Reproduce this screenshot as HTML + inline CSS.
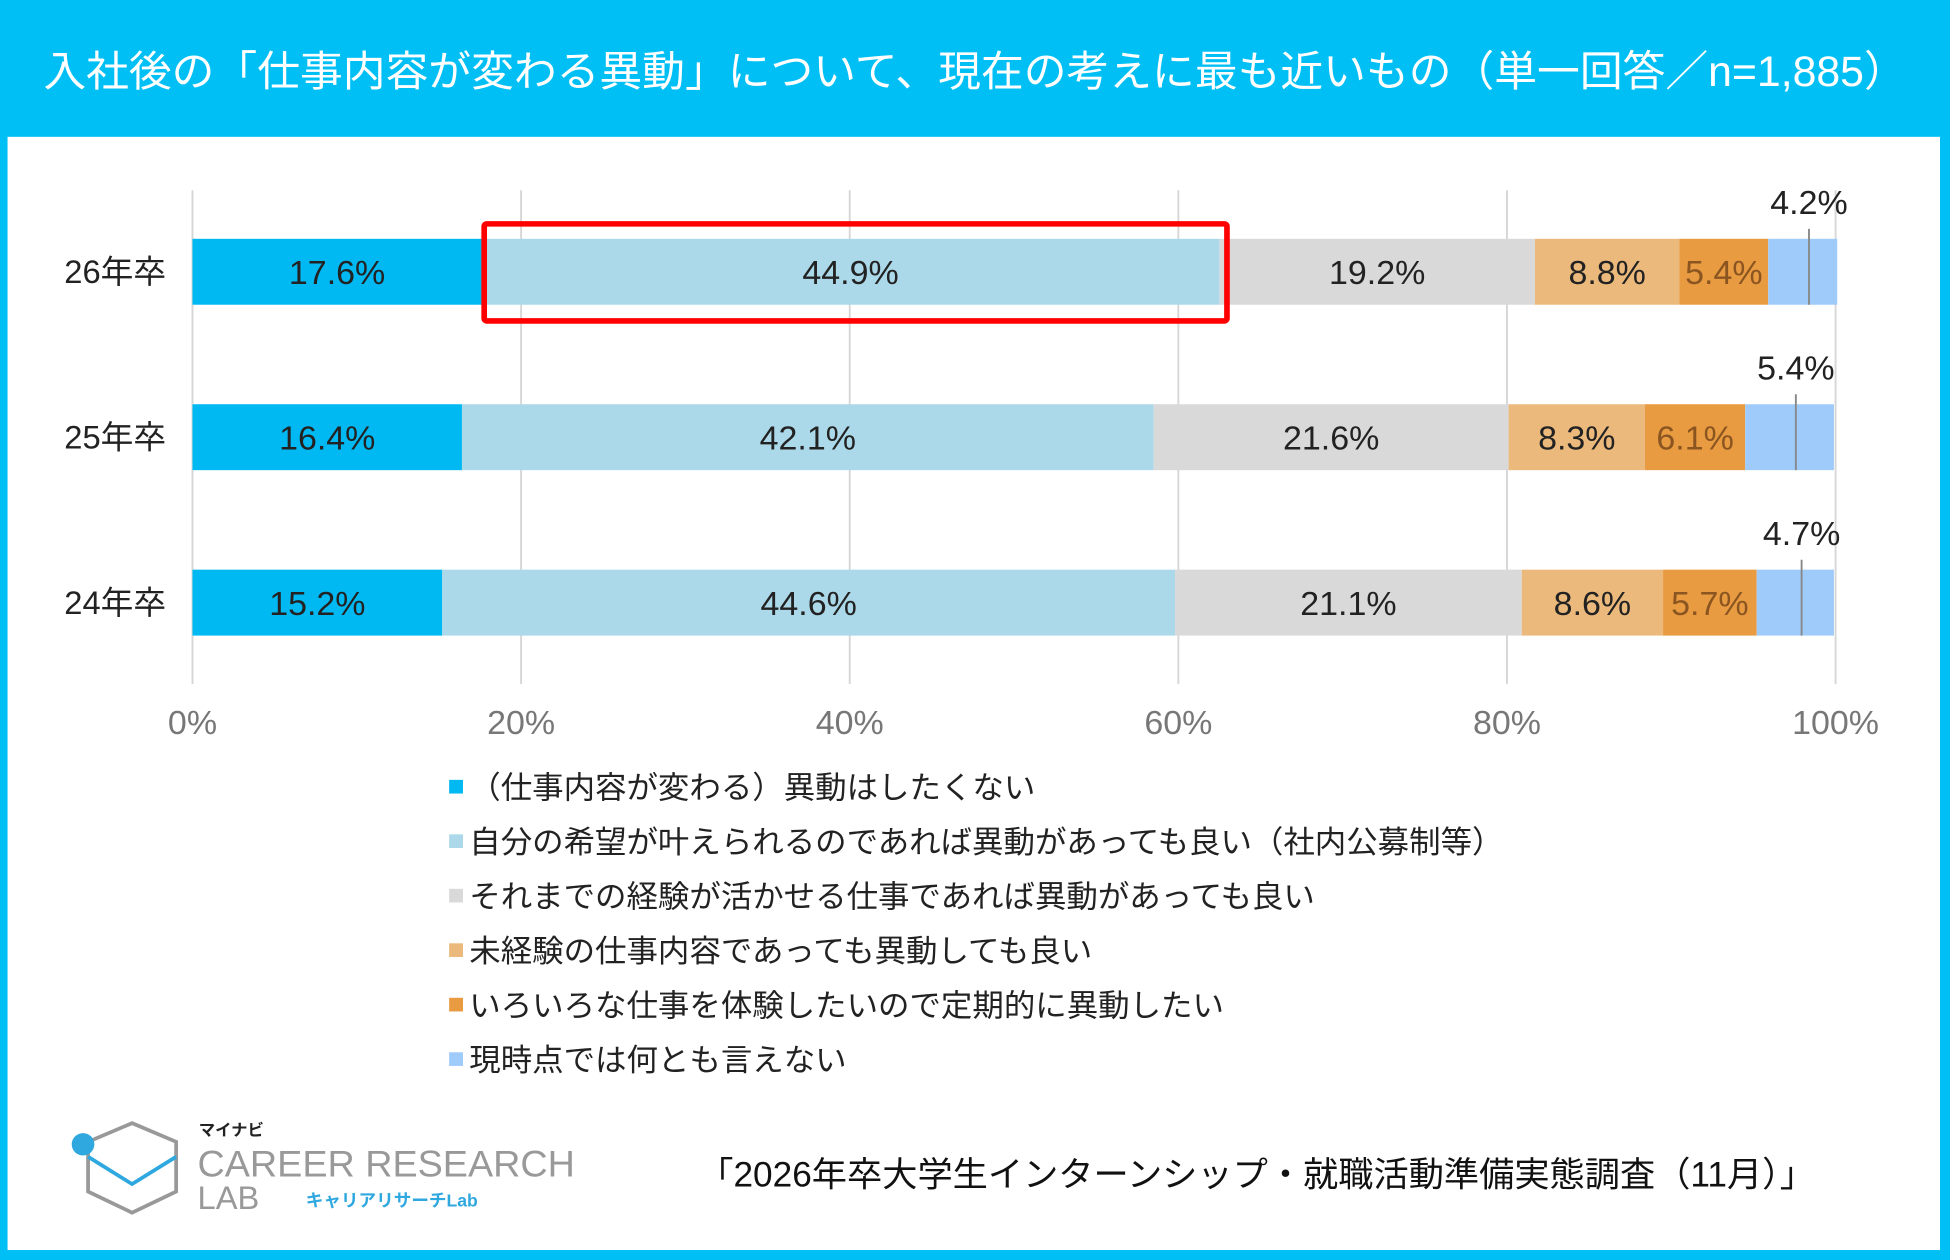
<!DOCTYPE html>
<html><head><meta charset="utf-8">
<style>
html,body{margin:0;padding:0;width:1950px;height:1260px;overflow:hidden;background:#00bff5;}
#wrap{position:absolute;left:0;top:0;width:1550px;height:1013px;transform-origin:0 0;transform:scale(1.2581,1.2438);font-family:"Liberation Sans","Noto Sans CJK JP",sans-serif;}
#panel{position:absolute;left:6px;top:110px;width:1536px;height:895px;background:#fff;}
#title{position:absolute;left:0;top:30px;width:1550px;text-align:center;color:#fff;font-size:34px;white-space:nowrap;}
svg text{font-family:"Liberation Sans","Noto Sans CJK JP",sans-serif;}
</style></head><body>
<div id="wrap">
<div id="title">入社後の「仕事内容が変わる異動」について、現在の考えに最も近いもの（単一回答／n=1,885）</div>
<div id="panel"></div>
<svg id="chart" width="1550" height="1013" style="position:absolute;left:0;top:0"></svg>
</div>
<script>
const categories=["26年卒","25年卒","24年卒"];
const s1=[17.6,16.4,15.2];
const s2=[44.9,42.1,44.6];
const s3=[19.2,21.6,21.1];
const s4=[8.8,8.3,8.6];
const s5=[5.4,6.1,5.7];
const s6=[4.2,5.4,4.7];
const ticks=[0,20,40,60,80,100];
const seriesNames=["（仕事内容が変わる）異動はしたくない","自分の希望が叶えられるのであれば異動があっても良い（社内公募制等）","それまでの経験が活かせる仕事であれば異動があっても良い","未経験の仕事内容であっても異動しても良い","いろいろな仕事を体験したいので定期的に異動したい","現時点では何とも言えない"];
const colors=["#00b9f2","#acd9ea","#d9d9d9","#ebb97c","#e99b41","#9fcbfb"];
const labelColors=["#222","#222","#222","#222","#8a5520"];
const series=[s1,s2,s3,s4,s5,s6];
const svg=document.getElementById('chart');
const NS="http://www.w3.org/2000/svg";
const X0=153,X1=1459;
const x=v=>X0+(X1-X0)*v/100;
const rowY=i=>192+i*133;
const BH=53;
function mk(t,a){const e=document.createElementNS(NS,t);for(const k in a)e.setAttribute(k,a[k]);svg.appendChild(e);return e;}
ticks.forEach(t=>{
 const g=mk('line',{x1:x(t),x2:x(t),y1:153,y2:550,stroke:'#d6d6d6','stroke-width':1.5});
 
 
 const tl=mk('text',{x:x(t),y:590,'text-anchor':'middle','font-size':27,fill:'#777'});
 tl.textContent=t+'%';
 
 
});
categories.forEach((c,i)=>{
 const y=rowY(i);
 const cl=mk('text',{x:132,y:y+BH/2+9,'text-anchor':'end','font-size':26,fill:'#222'});
 cl.textContent=c;
 
 
 let acc=0;
 series.forEach((s,k)=>{
  const v=s[i];
  const r=mk('rect',{x:x(acc),y:y,width:x(acc+v)-x(acc),height:BH,fill:colors[k]});
  
  
  const mid=x(acc+v/2);
  if(k<5){
   const t=mk('text',{x:mid,y:y+BH/2+10,'text-anchor':'middle','font-size':27,fill:labelColors[k]});
   t.textContent=v.toFixed(1)+'%';
   
   
  } else {
   const lx=mid+5;
   const ln=mk('line',{x1:lx,x2:lx,y1:y-8,y2:y+BH,stroke:'#888','stroke-width':1.5});
   
   
   const t=mk('text',{x:lx,y:y-20,'text-anchor':'middle','font-size':27,fill:'#222'});
   t.textContent=v.toFixed(1)+'%';
   
   
  }
  acc+=v;
 });
});
const hb=mk('rect',{x:x(s1[0])+2,y:rowY(0)-12,width:x(s1[0]+s2[0])-x(s1[0])+4,height:BH+25,fill:'none',stroke:'#f00','stroke-width':4.5,rx:2});


seriesNames.forEach((n,k)=>{
 const y=633+k*43.8;
 const sq=mk('rect',{x:357,y:y-6,width:11,height:11,fill:colors[k]});
 
 
 const t=mk('text',{x:373,y:y+9,'font-size':25,fill:'#222'});
 t.textContent=n;
 
 
});
</script>
<svg width="1550" height="1013" style="position:absolute;left:0;top:0;transform-origin:0 0;transform:scale(1.2581,1.2438)">
 <g>
  <polygon points="105,903 140,918 140,958 105,975 70,958 70,918" fill="none" stroke="#999" stroke-width="3"/>
  <path d="M70,930 L105,952 L140,930" fill="none" stroke="#2fa8e0" stroke-width="3"/>
  <circle cx="66" cy="920" r="9" fill="#2fa8e0"/>
  <text x="158" y="913" font-size="13" font-weight="bold" fill="#222">マイナビ</text>
  <text x="157" y="946" font-size="30" fill="#999" style="font-family:'Liberation Sans',sans-serif">CAREER RESEARCH</text>
  <text x="157" y="972" font-size="26" fill="#999" style="font-family:'Liberation Sans',sans-serif">LAB</text>
  <text x="243" y="970" font-size="14" font-weight="bold" fill="#2fa8e0">キャリアリサーチLab</text>
 </g>
 <text x="555" y="954" font-size="28" fill="#111">「2026年卒大学生インターンシップ・就職活動準備実態調査（11月）」</text>
</svg>
</body></html>
